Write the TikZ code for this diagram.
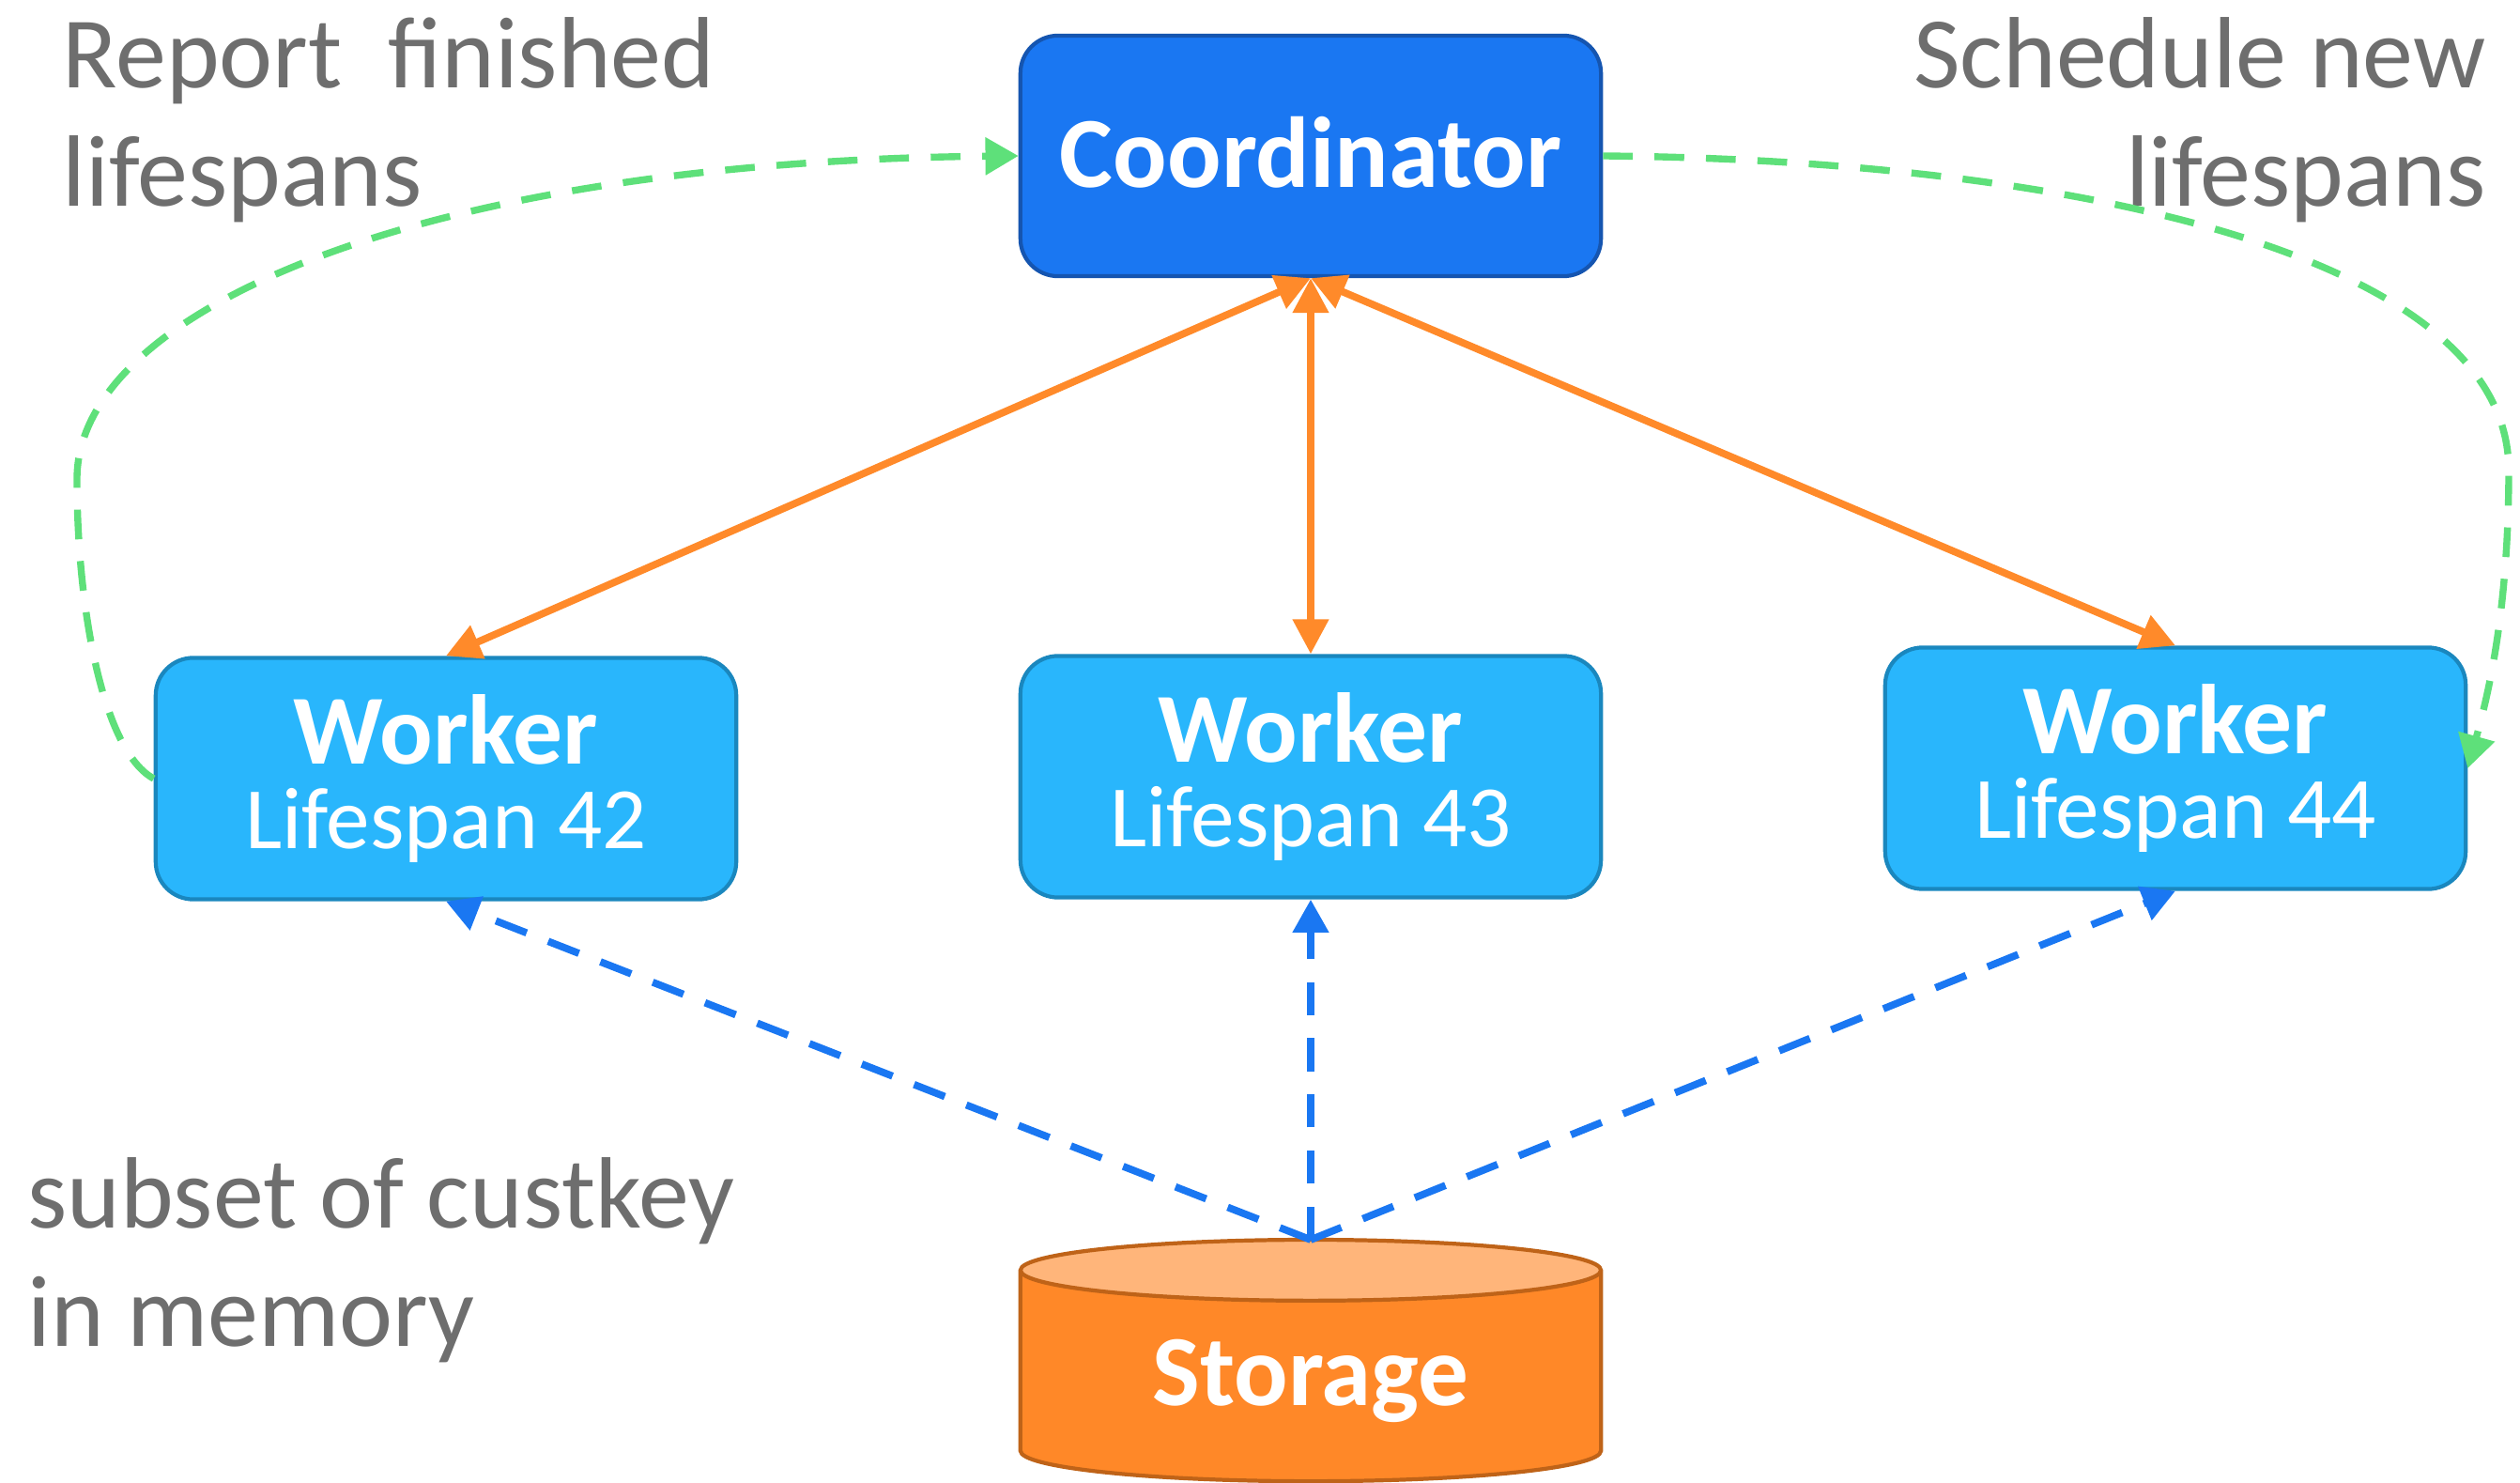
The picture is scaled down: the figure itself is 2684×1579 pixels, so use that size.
\documentclass[tikz,border=0pt]{standalone}
\usepackage{fontspec}
\setmainfont{Carlito}
\usetikzlibrary{arrows.meta,shapes.geometric}
\definecolor{coordfill}{HTML}{1A77F2}
\definecolor{coordedge}{HTML}{1555B0}
\definecolor{workerfill}{HTML}{29B6FC}
\definecolor{workeredge}{HTML}{1A87BE}
\definecolor{storebody}{HTML}{FF8828}
\definecolor{storetop}{HTML}{FFB57A}
\definecolor{storeedge}{HTML}{BF6318}
\definecolor{linkorange}{HTML}{FF8A2A}
\definecolor{fetchblue}{HTML}{1A77F2}
\definecolor{reportgreen}{HTML}{5EE07A}
\definecolor{notegray}{HTML}{6E6E6E}
\begin{document}
\begin{tikzpicture}[x=0.01cm,y=-0.01cm,
  coordbox/.style={draw=coordedge,fill=coordfill,line width=1.2pt,rounded corners=0.4cm,
    minimum width=6.18cm,minimum height=2.56cm,text=white,text depth=0.22em,
    font=\fontsize{30.5}{34}\selectfont\bfseries},
  workerbox/.style={draw=workeredge,fill=workerfill,line width=1.2pt,rounded corners=0.4cm,
    minimum width=6.18cm,minimum height=2.57cm,text=white,align=center,
    font=\fontsize{30}{25.5}\selectfont},
  note/.style={text=notegray,inner sep=0pt,font=\fontsize{30.7}{35.6}\selectfont},
  link/.style={draw=linkorange,line width=2.2pt,
    {Triangle[length=10.5pt,width=10.5pt]}-{Triangle[length=10.5pt,width=10.5pt]}},
  fetch/.style={draw=fetchblue,line width=2.2pt,dash pattern=on 10pt off 7pt,
    -{Triangle[length=10pt,width=10.5pt]}},
  report/.style={draw=reportgreen,line width=2.1pt,dash pattern=on 9pt off 6.6pt,
    -{Triangle[length=10pt,width=11pt]}},
]
\useasboundingbox (0,0) rectangle (2684,1579);
% nodes
\node[coordbox] (coord) at (1396,166) {Coordinator};
\node[workerbox] (w42) at (475,829) {\textbf{Worker}\\{\fontsize{26.5}{25.5}\selectfont Lifespan 42}};
\node[workerbox] (w43) at (1396,827) {\textbf{Worker}\\{\fontsize{26.5}{25.5}\selectfont Lifespan 43}};
\node[workerbox] (w44) at (2317,818) {\textbf{Worker}\\{\fontsize{26.5}{25.5}\selectfont Lifespan 44}};
\node[cylinder,shape border rotate=90,aspect=0.18,draw=storeedge,line width=1.2pt,
  cylinder uses custom fill,cylinder body fill=storebody,cylinder end fill=storetop,
  minimum width=6.18cm,minimum height=2.57cm,outer sep=0pt,anchor=north,text=white,
  font=\fontsize{30.5}{34}\selectfont\bfseries] (store) at (1396,1320) {Storage};
% labels
\node[note,align=left,anchor=base west] (reportlbl) at (66,219) {Report\ \ finished\\lifespans};
\node[note,align=right,anchor=base east] (schedlbl) at (2648,219) {Schedule new\\lifespans};
\node[note,align=left,anchor=base west] (memlbl) at (29,1433) {subset of custkey\\in memory};
% coordinator <-> workers
\draw[link] (coord.south) -- (w42.north);
\draw[link] (coord.south) -- (w43.north);
\draw[link] (coord.south) -- (w44.north);
% storage -> workers
\draw[fetch] (store.north) -- (w42.south);
\draw[fetch] (store.north) -- (w43.south);
\draw[fetch] (store.north) -- (w44.south);
% lifespan loop
\draw[report] (w42.west) .. controls (110,800) and (82,650) .. (82,510)
  .. controls (82,330) and (450,172) .. (coord.west);
\draw[report] (coord.east) .. controls (2200,170) and (2671,270) .. (2672,500)
  .. controls (2672,650) and (2650,740) .. (w44.east);
\end{tikzpicture}
\end{document}
